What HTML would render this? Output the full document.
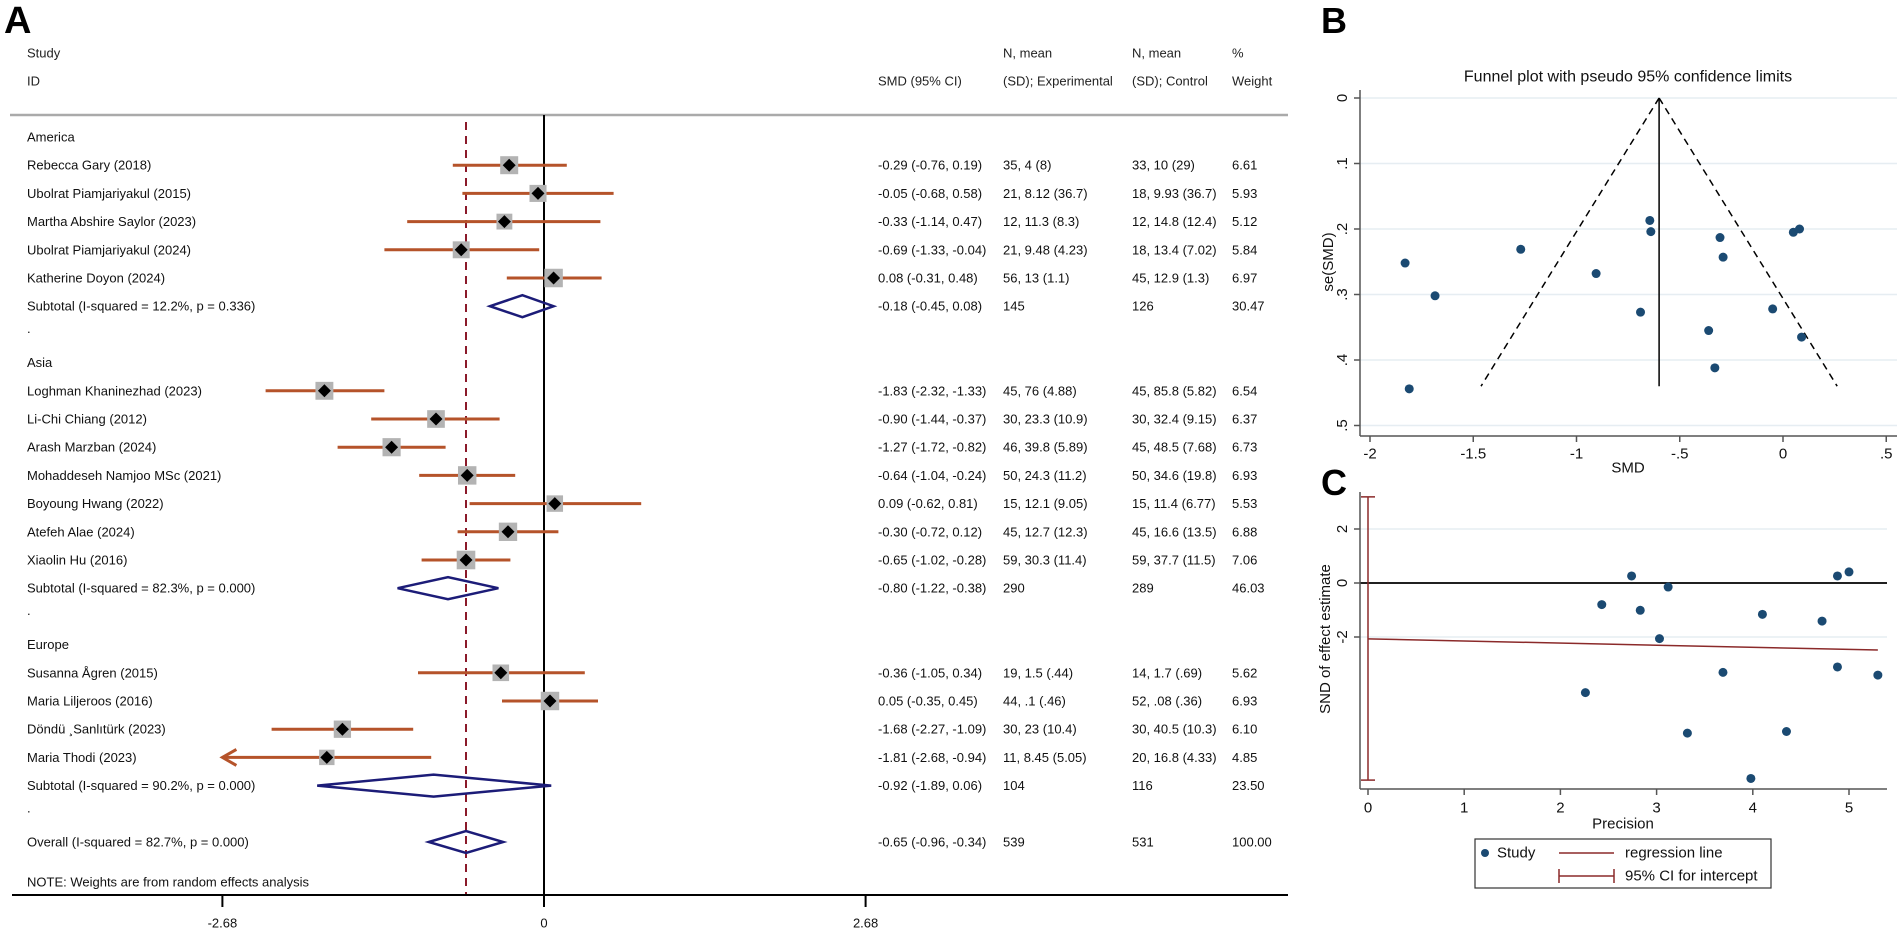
<!DOCTYPE html>
<html><head><meta charset="utf-8">
<style>
html,body{margin:0;padding:0;background:#fff;}
svg{display:block;font-family:"Liberation Sans",Arial,sans-serif;}
</style></head>
<body>
<svg id="fig" width="1902" height="934" viewBox="0 0 1902 934" xmlns="http://www.w3.org/2000/svg">
<g id="forest"></g>
<g id="funnel"></g>
<g id="egger"></g>
</svg>
<script>
// ---------- Forest plot data ----------
const groupNames = ['America','Asia','Europe'];
const studyNames = ['Rebecca Gary (2018)','Ubolrat Piamjariyakul (2015)','Martha Abshire Saylor (2023)','Ubolrat Piamjariyakul (2024)','Katherine Doyon (2024)',
 'Loghman Khaninezhad (2023)','Li-Chi Chiang (2012)','Arash Marzban (2024)','Mohaddeseh Namjoo MSc (2021)','Boyoung Hwang (2022)','Atefeh Alae (2024)','Xiaolin Hu (2016)',
 'Susanna Ågren (2015)','Maria Liljeroos (2016)','Döndü ¸Sanlıtürk (2023)','Maria Thodi (2023)'];
const studyGroup = [0,0,0,0,0,1,1,1,1,1,1,1,2,2,2,2];
const smd = [-0.29,-0.05,-0.33,-0.69,0.08,-1.83,-0.90,-1.27,-0.64,0.09,-0.30,-0.65,-0.36,0.05,-1.68,-1.81];
const ciLow = [-0.76,-0.68,-1.14,-1.33,-0.31,-2.32,-1.44,-1.72,-1.04,-0.62,-0.72,-1.02,-1.05,-0.35,-2.27,-2.68];
const ciHigh = [0.19,0.58,0.47,-0.04,0.48,-1.33,-0.37,-0.82,-0.24,0.81,0.12,-0.28,0.34,0.45,-1.09,-0.94];
const smdText = ['-0.29 (-0.76, 0.19)','-0.05 (-0.68, 0.58)','-0.33 (-1.14, 0.47)','-0.69 (-1.33, -0.04)','0.08 (-0.31, 0.48)',
 '-1.83 (-2.32, -1.33)','-0.90 (-1.44, -0.37)','-1.27 (-1.72, -0.82)','-0.64 (-1.04, -0.24)','0.09 (-0.62, 0.81)','-0.30 (-0.72, 0.12)','-0.65 (-1.02, -0.28)',
 '-0.36 (-1.05, 0.34)','0.05 (-0.35, 0.45)','-1.68 (-2.27, -1.09)','-1.81 (-2.68, -0.94)'];
const expText = ['35, 4 (8)','21, 8.12 (36.7)','12, 11.3 (8.3)','21, 9.48 (4.23)','56, 13 (1.1)',
 '45, 76 (4.88)','30, 23.3 (10.9)','46, 39.8 (5.89)','50, 24.3 (11.2)','15, 12.1 (9.05)','45, 12.7 (12.3)','59, 30.3 (11.4)',
 '19, 1.5 (.44)','44, .1 (.46)','30, 23 (10.4)','11, 8.45 (5.05)'];
const ctlText = ['33, 10 (29)','18, 9.93 (36.7)','12, 14.8 (12.4)','18, 13.4 (7.02)','45, 12.9 (1.3)',
 '45, 85.8 (5.82)','30, 32.4 (9.15)','45, 48.5 (7.68)','50, 34.6 (19.8)','15, 11.4 (6.77)','45, 16.6 (13.5)','59, 37.7 (11.5)',
 '14, 1.7 (.69)','52, .08 (.36)','30, 40.5 (10.3)','20, 16.8 (4.33)'];
const weights = [6.61,5.93,5.12,5.84,6.97,6.54,6.37,6.73,6.93,5.53,6.88,7.06,5.62,6.93,6.10,4.85];
const subLabel = ['Subtotal  (I-squared = 12.2%, p = 0.336)','Subtotal  (I-squared = 82.3%, p = 0.000)','Subtotal  (I-squared = 90.2%, p = 0.000)'];
const subSmd = [-0.18,-0.80,-0.92];
const subLow = [-0.45,-1.22,-1.89];
const subHigh = [0.08,-0.38,0.06];
const subText = ['-0.18 (-0.45, 0.08)','-0.80 (-1.22, -0.38)','-0.92 (-1.89, 0.06)'];
const subExpN = ['145','290','104'];
const subCtlN = ['126','289','116'];
const subWeight = ['30.47','46.03','23.50'];
const overall = {label:'Overall  (I-squared = 82.7%, p = 0.000)', smd:-0.65, low:-0.96, high:-0.34, text:'-0.65 (-0.96, -0.34)', en:'539', cn:'531', w:'100.00'};
const forestTicks = [-2.68, 0, 2.68];
const forestTickLabels = ['-2.68','0','2.68'];
const axisMin = -2.68;

// ---------- Funnel plot data ----------
const funnelSmd = [-1.83,-1.685,-1.27,-0.905,-0.645,-0.64,-0.69,-0.305,-0.29,-0.36,-0.33,0.05,0.08,-0.05,0.09,-1.81];
const funnelSe = [0.252,0.302,0.231,0.268,0.187,0.204,0.327,0.213,0.243,0.355,0.412,0.205,0.200,0.322,0.365,0.444];
const funnelCenter = -0.6;
const funnelMaxSe = 0.44;
const funnelXTicks = [-2,-1.5,-1,-0.5,0,0.5];
const funnelXLabels = ['-2','-1.5','-1','-.5','0','.5'];
const funnelYTicks = [0,0.1,0.2,0.3,0.4,0.5];
const funnelYLabels = ['0','.1','.2','.3','.4','.5'];

// ---------- Egger plot data ----------
const precision = [2.26,2.43,2.74,2.83,3.03,3.12,3.32,3.69,3.98,4.10,4.35,4.72,4.88,4.88,5.00,5.30];
const snd = [-4.06,-0.80,0.26,-1.01,-2.06,-0.15,-5.56,-3.31,-7.24,-1.16,-5.50,-1.41,0.26,-3.11,0.41,-3.41];
const regIntercept = -2.07;
const regSlope = -0.078;
const ciIntercept = [-7.3, 3.19];
const eggerXTicks = [0,1,2,3,4,5];
const eggerXLabels = ['0','1','2','3','4','5'];
const eggerYTicks = [2,0,-2];
const eggerYLabels = ['2','0','-2'];

const NS='http://www.w3.org/2000/svg';
function mk(parent, tag, attrs, txt){
  const e=document.createElementNS(NS,tag);
  for(const k in attrs) e.setAttribute(k,attrs[k]);
  if(txt!==undefined) e.textContent=txt;
  parent.appendChild(e); return e;
}

// ===== FOREST =====
const F=document.getElementById('forest');
const fx=v=>544+v*120;
const rowY=i=>137+i*28.2;
let t;
t=mk(F,'text',{x:4,y:33,'font-size':38,'font-weight':'bold',fill:'#000'},'A');


const hdr=[[27,53,'Study'],[27,81,'ID'],[878,81,'SMD (95% CI)'],[1003,53,'N, mean'],[1003,81,'(SD); Experimental'],[1132,53,'N, mean'],[1132,81,'(SD); Control'],[1232,53,'%'],[1232,81,'Weight']];
hdr.forEach(h=>{t=mk(F,'text',{x:h[0],y:h[1],'font-size':13,'dominant-baseline':'central',fill:'#222'},h[2]);
 
 });
t=mk(F,'line',{x1:10,y1:115,x2:1288,y2:115,stroke:'#aaa','stroke-width':2.5});


// zero & overall lines
t=mk(F,'line',{x1:fx(0),y1:115,x2:fx(0),y2:895,stroke:'#000','stroke-width':2});


t=mk(F,'line',{x1:fx(overall.smd),y1:122,x2:fx(overall.smd),y2:895,stroke:'#8b1a2a','stroke-width':2,'stroke-dasharray':'8,6'});



function rowText(y, label, c2, c3, c4, c5, name){
  const cols=[[27,label],[878,c2],[1003,c3],[1132,c4],[1232,c5]];
  cols.forEach(c=>{ if(c[1]===undefined) return;
    const e=mk(F,'text',{x:c[0],y:y,'font-size':13,'dominant-baseline':'central',fill:'#111'},c[1]);
    
    
  });
}
function diamond(y, lo, mid, hi, name){
  const h=11;
  const e=mk(F,'polygon',{points:`${fx(lo)},${y} ${fx(mid)},${y-h} ${fx(hi)},${y} ${fx(mid)},${y+h}`,fill:'none',stroke:'#1c1c78','stroke-width':2.5});
  
  
}
let r=0;
groupNames.forEach((g,gi)=>{
  rowText(rowY(r), g, undefined,undefined,undefined,undefined,'group-label'); r++;
  studyNames.forEach((s,i)=>{
    if(studyGroup[i]!==gi) return;
    const y=rowY(r);
    rowText(y, s, smdText[i], expText[i], ctlText[i], weights[i].toFixed(2),'study-row');
    const lo=Math.max(ciLow[i],axisMin);
    const l=mk(F,'line',{x1:fx(lo),y1:y,x2:fx(ciHigh[i]),y2:y,stroke:'#b5532a','stroke-width':3});
    
    
    if(ciLow[i]<=axisMin){
      const a=mk(F,'polyline',{points:`${fx(lo)+14},${y-8} ${fx(lo)},${y} ${fx(lo)+14},${y+8}`,fill:'none',stroke:'#b5532a','stroke-width':3});
      
      
    }
    const sz=7*Math.sqrt(weights[i]);
    const b=mk(F,'rect',{x:fx(smd[i])-sz/2,y:y-sz/2,width:sz,height:sz,fill:'#b3b3b3'});
    
    
    const d=6.5;
    const p=mk(F,'polygon',{points:`${fx(smd[i])-d},${y} ${fx(smd[i])},${y-d} ${fx(smd[i])+d},${y} ${fx(smd[i])},${y+d}`,fill:'#000'});
    
    
    r++;
  });
  const y=rowY(r);
  rowText(y, subLabel[gi], subText[gi], subExpN[gi], subCtlN[gi], subWeight[gi],'subtotal-row');
  diamond(y, subLow[gi], subSmd[gi], subHigh[gi],'subtotal-diamond'); r++;
  rowText(rowY(r)-6, '.', undefined,undefined,undefined,undefined,'spacer-dot'); r++;
});
rowText(rowY(r), overall.label, overall.text, overall.en, overall.cn, overall.w,'overall-row');
diamond(rowY(r), overall.low, overall.smd, overall.high,'overall-diamond');
rowText(882,'NOTE: Weights are from random effects analysis',undefined,undefined,undefined,undefined,'footnote');
t=mk(F,'line',{x1:12,y1:895,x2:1288,y2:895,stroke:'#000','stroke-width':2});


forestTicks.forEach((v,i)=>{
  const l=mk(F,'line',{x1:fx(v),y1:895,x2:fx(v),y2:907,stroke:'#000','stroke-width':2});
  
  
  const e=mk(F,'text',{x:fx(v),y:923,'font-size':13,'text-anchor':'middle','dominant-baseline':'central',fill:'#111'},forestTickLabels[i]);
  
  
});

// ===== FUNNEL =====
const B=document.getElementById('funnel');
const bx=v=>1783+v*206.5;
const by=s=>98+s*655;
t=mk(B,'text',{x:1321,y:33,'font-size':36,'font-weight':'bold',fill:'#000'},'B');


t=mk(B,'text',{x:1628,y:77,'font-size':16,'text-anchor':'middle','dominant-baseline':'central',fill:'#111'},'Funnel plot with pseudo 95% confidence limits');


funnelYTicks.forEach((v,i)=>{
  const g=mk(B,'line',{x1:1360,y1:by(v),x2:1897,y2:by(v),stroke:'#e6edf2','stroke-width':1.5});
  
  
  const k=mk(B,'line',{x1:1354,y1:by(v),x2:1360,y2:by(v),stroke:'#555','stroke-width':1.5});
  
  
  const e=mk(B,'text',{x:0,y:0,'font-size':15,'text-anchor':'middle',fill:'#111',transform:`translate(1347,${by(v)}) rotate(-90)`},funnelYLabels[i]);
  
  
});
t=mk(B,'line',{x1:1360,y1:90,x2:1360,y2:436,stroke:'#555','stroke-width':1.5});


t=mk(B,'line',{x1:1360,y1:436,x2:1897,y2:436,stroke:'#555','stroke-width':1.5});


funnelXTicks.forEach((v,i)=>{
  const k=mk(B,'line',{x1:bx(v),y1:436,x2:bx(v),y2:442,stroke:'#555','stroke-width':1.5});
  
  
  const e=mk(B,'text',{x:bx(v),y:454,'font-size':15,'text-anchor':'middle','dominant-baseline':'central',fill:'#111'},funnelXLabels[i]);
  
  
});
t=mk(B,'text',{x:1628,y:468,'font-size':15,'text-anchor':'middle','dominant-baseline':'central',fill:'#111'},'SMD');


t=mk(B,'text',{x:0,y:0,'font-size':15,'text-anchor':'middle',fill:'#111',transform:'translate(1333,262) rotate(-90)'},'se(SMD)');


t=mk(B,'line',{x1:bx(funnelCenter),y1:by(0),x2:bx(funnelCenter),y2:by(funnelMaxSe),stroke:'#000','stroke-width':1.5});


[-1,1].forEach(sgn=>{
  const l=mk(B,'line',{x1:bx(funnelCenter),y1:by(0),x2:bx(funnelCenter+sgn*1.96*funnelMaxSe),y2:by(funnelMaxSe),stroke:'#000','stroke-width':1.5,'stroke-dasharray':'7,5'});
  
  
});
funnelSmd.forEach((v,i)=>{
  const c=mk(B,'circle',{cx:bx(v),cy:by(funnelSe[i]),r:4.5,fill:'#1b4a72'});
  
  
});

// ===== EGGER =====
const C=document.getElementById('egger');
const cx=p=>1368+p*96.2;
const cy=s=>583-s*27;
t=mk(C,'text',{x:1321,y:495,'font-size':36,'font-weight':'bold',fill:'#000'},'C');


eggerYTicks.forEach((v,i)=>{
  const g=mk(C,'line',{x1:1360,y1:cy(v),x2:1887,y2:cy(v),stroke:v===0?'#000':'#e6edf2','stroke-width':v===0?1.8:1.5});
  
  
  const k=mk(C,'line',{x1:1354,y1:cy(v),x2:1360,y2:cy(v),stroke:'#555','stroke-width':1.5});
  
  
  const e=mk(C,'text',{x:0,y:0,'font-size':15,'text-anchor':'middle',fill:'#111',transform:`translate(1347,${cy(v)}) rotate(-90)`},eggerYLabels[i]);
  
  
});
t=mk(C,'line',{x1:1360,y1:492,x2:1360,y2:789,stroke:'#555','stroke-width':1.5});


t=mk(C,'line',{x1:1360,y1:789,x2:1887,y2:789,stroke:'#555','stroke-width':1.5});


eggerXTicks.forEach((v,i)=>{
  const k=mk(C,'line',{x1:cx(v),y1:789,x2:cx(v),y2:795,stroke:'#555','stroke-width':1.5});
  
  
  const e=mk(C,'text',{x:cx(v),y:808,'font-size':15,'text-anchor':'middle','dominant-baseline':'central',fill:'#111'},eggerXLabels[i]);
  
  
});
t=mk(C,'text',{x:1623,y:824,'font-size':15,'text-anchor':'middle','dominant-baseline':'central',fill:'#111'},'Precision');


t=mk(C,'text',{x:0,y:0,'font-size':15,'text-anchor':'middle',fill:'#111',transform:'translate(1330,639) rotate(-90)'},'SND of effect estimate');


// CI for intercept
t=mk(C,'line',{x1:cx(0),y1:cy(ciIntercept[0]),x2:cx(0),y2:cy(ciIntercept[1]),stroke:'#8b2a2a','stroke-width':1.5});


ciIntercept.forEach(v=>{
  const l=mk(C,'line',{x1:cx(0)-7,y1:cy(v),x2:cx(0)+7,y2:cy(v),stroke:'#8b2a2a','stroke-width':1.5});
  
  
});
t=mk(C,'line',{x1:cx(0),y1:cy(regIntercept),x2:cx(5.3),y2:cy(regIntercept+regSlope*5.3),stroke:'#8b2a2a','stroke-width':1.5});


precision.forEach((p,i)=>{
  const c=mk(C,'circle',{cx:cx(p),cy:cy(snd[i]),r:4.5,fill:'#1b4a72'});
  
  
});
// legend
const L=mk(C,'g',{});


t=mk(L,'rect',{x:1475,y:839,width:296,height:49,fill:'#fff',stroke:'#333','stroke-width':1.2});


t=mk(L,'circle',{cx:1485,cy:853,r:4,fill:'#1b4a72'});


t=mk(L,'text',{x:1497,y:853,'font-size':15,'dominant-baseline':'central',fill:'#111'},'Study');


t=mk(L,'line',{x1:1559,y1:853,x2:1614,y2:853,stroke:'#8b2a2a','stroke-width':1.5});


t=mk(L,'text',{x:1625,y:853,'font-size':15,'dominant-baseline':'central',fill:'#111'},'regression line');


t=mk(L,'path',{d:'M1559,869 V883 M1559,876 H1614 M1614,869 V883',stroke:'#8b2a2a','stroke-width':1.5,fill:'none'});


t=mk(L,'text',{x:1625,y:876,'font-size':15,'dominant-baseline':'central',fill:'#111'},'95% CI for intercept');


</script>
</body></html>
